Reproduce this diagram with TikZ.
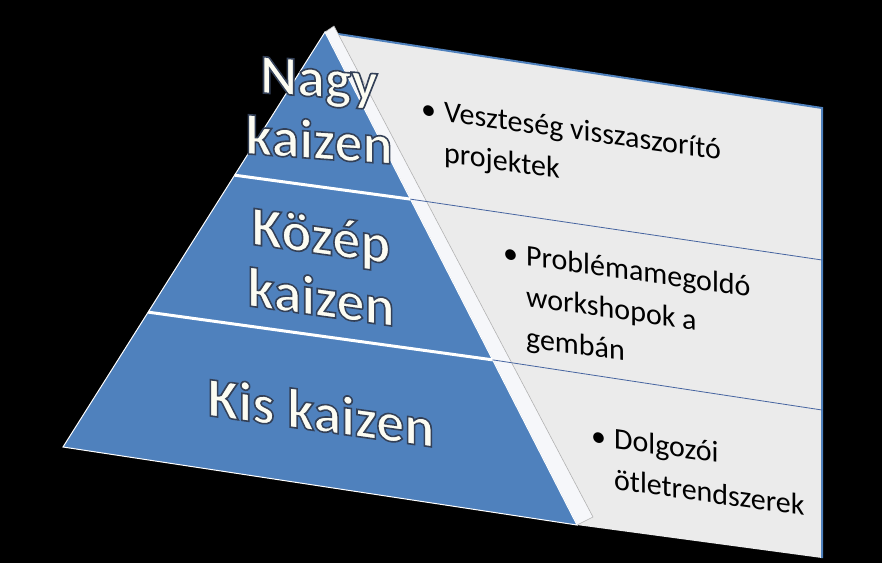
\documentclass[tikz,border=0pt]{standalone}
\usepackage{fontspec}
\setmainfont{Carlito}
\usetikzlibrary{calc}
\definecolor{tierblue}{RGB}{79,129,189}
\definecolor{panelgray}{RGB}{235,235,235}
\definecolor{bevelwhite}{RGB}{246,247,250}
\definecolor{labelwhite}{RGB}{252,252,242}
\definecolor{rowblue}{RGB}{70,100,160}
\newcommand{\outlined}[1]{\special{pdf:literal direct 2 Tr 0.2 0.25 0.34 RG 1.6 w}#1\special{pdf:literal direct 0 Tr}}

\begin{document}
\begin{tikzpicture}[x=1pt, y=-1pt,
    tier/.style={text=labelwhite, font=\fontsize{56}{62}\selectfont\bfseries, align=center, inner sep=0pt, yslant=-0.14},
    itemtext/.style={text=black, font=\fontsize{30}{41}\selectfont, anchor=base west, inner sep=0pt, yslant=-0.14},
    divider/.style={white, line width=3pt},
    rowline/.style={rowblue, line width=0.8pt}]
    \fill[black] (0,0) rectangle (882,563);
    \useasboundingbox (0,0) rectangle (882,563);
    \coordinate (apex) at (325,32);
    \coordinate (left) at (63,447);
    \coordinate (right) at (577,525);
    \coordinate (sapex) at (334,26);
    \coordinate (sbase) at (593,517);
    \coordinate (ptop) at (822,108);
    \coordinate (pbot) at (822,558);
    \draw[fill=panelgray, draw=none] (apex) -- (ptop) -- (pbot) -- (right) -- cycle;
    \draw[tierblue, line width=2pt] (apex) -- (ptop) -- (pbot);
    \draw[fill=bevelwhite, draw=gray!60, line width=0.6pt] (apex) -- (sapex) -- (sbase) -- (right) -- cycle;
    \draw[fill=tierblue, draw=white, line width=1pt] (apex) -- (left) -- (right) -- cycle;
    \coordinate (d1l) at ($(apex)!0.345!(left)$);
    \coordinate (d1r) at ($(apex)!0.339!(right)$);
    \coordinate (d2l) at ($(apex)!0.675!(left)$);
    \coordinate (d2r) at ($(apex)!0.665!(right)$);
    \coordinate (r1) at (822,260);
    \coordinate (r2) at (822,410);
    \draw[divider] (d1l) -- (d1r);
    \draw[divider] (d2l) -- (d2r);
    \draw[rowline] (d1r) -- (r1);
    \draw[rowline] (d2r) -- (r2);
    \node[tier, yslant=0.07] (nagy) at (319,110) {\outlined{Nagy\\kaizen}};
    \node[tier] (kozep) at (321,266) {\outlined{Közép\\kaizen}};
    \node[tier] (kis) at (321,412) {\outlined{Kis kaizen}};
    \node[itemtext] (veszt) at (421,118) {\begin{tabular}[t]{@{}l@{\hspace{8pt}}l@{}}• & Veszteség visszaszorító\\ & projektek\end{tabular}};
    \node[itemtext] (probl) at (503,262) {\begin{tabular}[t]{@{}l@{\hspace{8pt}}l@{}}• & Problémamegoldó\\ & workshopok a\\ & gembán\end{tabular}};
    \node[itemtext] (dolg) at (591,445) {\begin{tabular}[t]{@{}l@{\hspace{8pt}}l@{}}• & Dolgozói\\ & ötletrendszerek\end{tabular}};
\end{tikzpicture}
\end{document}
